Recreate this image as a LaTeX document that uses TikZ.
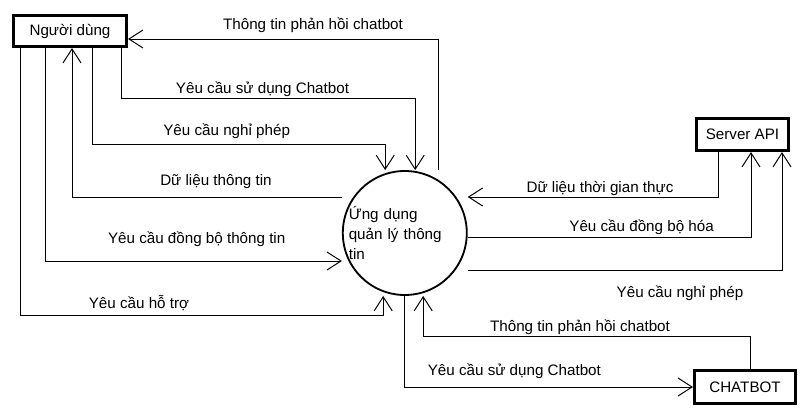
\documentclass[tikz,border=0pt]{standalone}
\usepackage{fontspec}
\setmainfont{Liberation Sans}
\usetikzlibrary{positioning, arrows.meta}

\begin{document}
\begin{tikzpicture}[every node/.style={font=\fontsize{10.8}{14.2}\selectfont, inner sep=0pt},
	entity/.style={draw, line width=2.2pt, minimum width=2.8cm, minimum height=0.8cm},
	flow/.style={-{Straight Barb[length=0.35cm, width=0.45cm]}, line width=0.7pt}]

			\useasboundingbox (0,0) rectangle (20.225,-10.425);
			% Entities
			\node[entity, minimum width=2.825cm, minimum height=0.775cm] (user) at (1.75,-0.775) {Người dùng};
			\node[entity, minimum width=2.3cm] (server) at (18.5625,-3.3625) {Server API};
			\node[entity, minimum width=2.525cm, minimum height=0.825cm] (chatbot) at (18.625,-9.675) {CHATBOT};
			% Process
			\node[draw, circle, line width=1.3pt, minimum size=3.1cm, text width=2.8cm, align=left] (app) at (10.12,-5.825) {Ứng dụng\\quản lý thông\\tin};

			% Labels user side
			\node (fbtop)   at (7.825,-0.625) {Thông tin phản hồi chatbot};
			\node (usechat) at (6.5625,-2.225) {Yêu cầu sử dụng Chatbot};
			\node (leave)   at (5.667,-3.29) {Yêu cầu nghỉ phép};
			\node (data)    at (5.4,-4.54) {Dữ liệu thông tin};
			\node (sync)    at (4.917,-5.975) {Yêu cầu đồng bộ thông tin};
			\node (help)    at (3.475,-7.575) {Yêu cầu hỗ trợ};
			% Labels server side
			\node (realtime) at (15.0,-4.7) {Dữ liệu thời gian thực};
			\node (syncsrv)  at (16.04,-5.69) {Yêu cầu đồng bộ hóa};
			\node (leavesrv) at (17.0,-7.33) {Yêu cầu nghỉ phép};
			% Labels chatbot side
			\node (fbbot)   at (14.5,-8.19) {Thông tin phản hồi chatbot};
			\node (usebot)  at (12.86,-9.29) {Yêu cầu sử dụng Chatbot};

			% Arrows user<->app
			\draw[flow] ([xshift=0.83cm]app.north) |- ([yshift=-0.2cm]user.east);
			\draw[flow] ([xshift=1.275cm]user.south) -- ++(0,-1.25) -| ([xshift=0.26cm]app.north);
			\draw[flow] ([xshift=0.55cm]user.south) -- ++(0,-2.4) -| ([xshift=-0.49cm]app.north);
			\draw[flow] ([yshift=0.9cm]app.west) -| ([xshift=0.05cm]user.south);
			\draw[flow] ([xshift=-0.625cm]user.south) |- ([yshift=-0.7cm]app.west);
			\draw[flow] ([xshift=-1.25cm]user.south) -- ++(0,-6.675) -| ([xshift=-0.54cm]app.south);
			% Arrows server<->app
			\draw[flow] ([xshift=-0.6125cm]server.south) |- ([yshift=0.9cm]app.east);
			\draw[flow] ([yshift=-0.1cm]app.east) -| ([xshift=0.2125cm]server.south);
			\draw[flow] ([yshift=-0.925cm]app.east) -| ([xshift=0.9875cm]server.south);
			% Arrows chatbot<->app
			\draw[flow] ([xshift=0.125cm]chatbot.north) -- ++(0,0.8) -| ([xshift=0.46cm]app.south);
			\draw[flow] (app.south) |- (chatbot.west);
		\end{tikzpicture}
\end{document}
